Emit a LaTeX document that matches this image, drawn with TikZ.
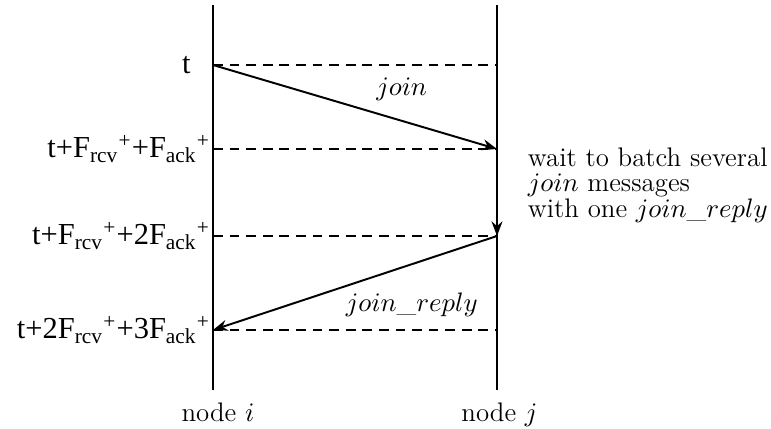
\documentclass[tikz,border=0pt]{standalone}
\usepackage{fontspec}
\newfontfamily\timesfont{Liberation Serif}
\usetikzlibrary{arrows.meta, positioning}

\begin{document}
\begin{tikzpicture}[
    x=0.0144cm, y=-0.0144cm,
    font=\fontsize{11}{10.5}\selectfont,
    lifeline/.style={line width=1.2pt},
    tick/.style={line width=0.8pt, dash pattern=on 4pt off 2.8pt},
    msg/.style={-{Stealth[length=6pt, width=4.5pt]}, line width=0.8pt},
    timelbl/.style={anchor=east, inner sep=1pt, font=\timesfont\fontsize{12.5}{14}\selectfont},
    lbl/.style={inner sep=1pt}
  ]
    \useasboundingbox (0,0) rectangle (771,429);

    % lifelines
    \coordinate (itop) at (213,5);
    \coordinate (ibot) at (213,390);
    \coordinate (jtop) at (497,5);
    \coordinate (jbot) at (497,390);
    \draw[lifeline] (itop) -- (ibot);
    \draw[lifeline] (jtop) -- (jbot);
    \node[lbl, below=4pt of ibot, xshift=2pt] (ni) {node $i$};
    \node[lbl, below=4pt of jbot, xshift=1pt] (nj) {node $j$};

    % time marks
    \coordinate (i1) at (213,65);   \coordinate (j1) at (497,65);
    \coordinate (i2) at (213,149);  \coordinate (j2) at (497,149);
    \coordinate (i3) at (213,236);  \coordinate (j3) at (497,236);
    \coordinate (i4) at (213,330);  \coordinate (j4) at (497,330);
    \draw[tick] (i1) -- (j1);
    \draw[tick] (i2) -- (j2);
    \draw[tick] (i3) -- (j3);
    \draw[tick] (i4) -- (j4);

    \node[timelbl, left=8pt of i1] (t1) {t};
    \node[timelbl] (t2) at (i2) {t+F\textsubscript{rcv}\textsuperscript{+}+F\textsubscript{ack}\textsuperscript{+}};
    \node[timelbl] (t3) at (i3) {t+F\textsubscript{rcv}\textsuperscript{+}+2F\textsubscript{ack}\textsuperscript{+}};
    \node[timelbl] (t4) at (i4) {t+2F\textsubscript{rcv}\textsuperscript{+}+3F\textsubscript{ack}\textsuperscript{+}};

    % messages
    \draw[msg] (i1) -- node[above right=-1pt and 5pt]{$join$} (j2);
    \draw[msg] (j2) -- (j3);
    \draw[msg] (j3) -- node[pos=0.3, below=8pt]{$join\_reply$} (i4);

    \node[lbl, anchor=west, align=left] (wait) at (525,185)
      {wait to batch several\\$join$ messages\\with one $join\_reply$};
  \end{tikzpicture}
\end{document}
